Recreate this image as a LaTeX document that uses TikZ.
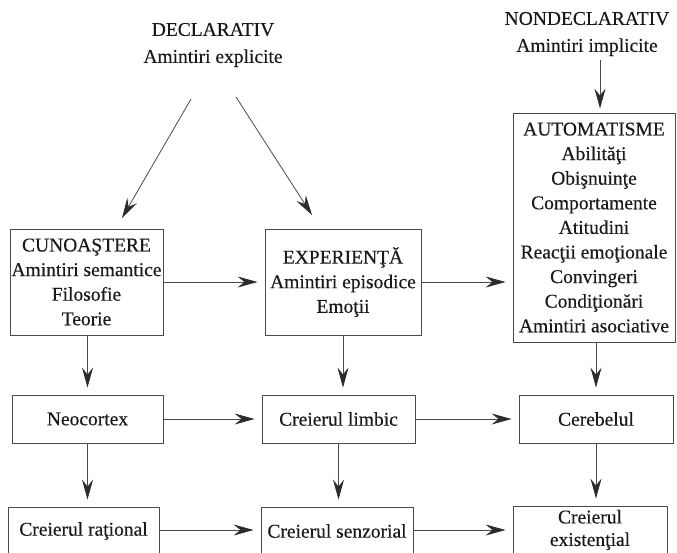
\documentclass[tikz,border=0pt]{standalone}
\usepackage{fontspec}
\setmainfont{Liberation Serif}[FakeBold=0.35]
\usetikzlibrary{arrows.meta}
\definecolor{ink}{HTML}{1A1A1A}
\definecolor{edge}{HTML}{4A4A4A}
\definecolor{tip}{HTML}{2C2C2C}
\begin{document}
\begin{tikzpicture}[x=1pt,y=-1pt,
  every node/.style={text=ink, font=\fontsize{19.5}{24.6}\selectfont},
  box/.style={draw=edge, line width=0.9pt, rectangle, align=center, inner sep=0pt},
  label/.style={align=center, inner sep=0pt},
  arr/.style={draw=edge, line width=0.8pt,
    -{Stealth[length=20pt,width=11pt,inset=7pt,fill=tip,color=tip]},
    shorten >=7pt}
]
\useasboundingbox (0,0) rectangle (677,552);
\clip (0,0) rectangle (677,552);

% headings
\node[label, font=\fontsize{19.5}{27}\selectfont] (decl) at (213,45) {DECLARATIV\\Amintiri explicite};
\node[label, font=\fontsize{19.5}{27}\selectfont] (nondecl) at (587,34) {NONDECLARATIV\\Amintiri implicite};

% first row
\node[box, minimum width=153pt, minimum height=106pt] (cun) at (86.5,282)
  {CUNOAŞTERE\\Amintiri semantice\\Filosofie\\Teorie};
\node[box, minimum width=156pt, minimum height=106pt] (exp) at (343,282)
  {EXPERIENŢĂ\\Amintiri episodice\\Emoţii};
\node[box, minimum width=162pt, minimum height=229pt] (auto) at (594,227.5)
  {AUTOMATISME\\Abilităţi\\Obişnuinţe\\Comportamente\\Atitudini\\Reacţii emoţionale\\Convingeri\\Condiţionări\\Amintiri asociative};

% second row
\node[box, minimum width=151pt, minimum height=48pt] (neo) at (87.5,419) {Neocortex};
\node[box, minimum width=153pt, minimum height=48pt] (limb) at (338.5,419) {Creierul limbic};
\node[box, minimum width=154pt, minimum height=48pt] (cereb) at (596,419) {Cerebelul};

% third row (runs past the lower edge)
\node[box, minimum width=151pt, minimum height=48pt] (rat) at (83.5,531) {Creierul raţional};
\node[box, minimum width=152pt, minimum height=48pt] (senz) at (337,531) {Creierul senzorial};
\node[box, minimum width=154pt, minimum height=48pt, font=\fontsize{19.5}{22.5}\selectfont] (exist) at (590,530) {Creierul\\existenţial};

% free ends of the heading arrows
\coordinate (d1s) at (191,99);
\coordinate (d1e) at (122,218);
\coordinate (d2s) at (236,97);
\coordinate (d2e) at (312,215);
\coordinate (nds) at (600,60);

\draw[arr, shorten >=0pt] (d1s) -- (d1e);
\draw[arr, shorten >=0pt] (d2s) -- (d2e);
\draw[arr, shorten >=4pt] (nds) -- (nds |- auto.north);

% horizontal connectors
\draw[arr] (cun.east) -- (exp.west);
\draw[arr] (exp.east) -- (exp.east -| auto.west);
\draw[arr] (neo.east) -- (limb.west);
\draw[arr] (limb.east) -- (cereb.west);
\draw[arr] (rat.east |- 0,530) -- (senz.west |- 0,530);
\draw[arr] (senz.east |- 0,530) -- (exist.west |- 0,530);

% vertical connectors
\draw[arr] (cun.south -| neo) -- (neo.north);
\draw[arr] (exp.south) -- (exp.south |- limb.north);
\draw[arr] (auto.south -| cereb) -- (cereb.north);
\draw[arr] (neo.south) -- (neo.south |- rat.north);
\draw[arr] (limb.south) -- (limb.south |- senz.north);
\draw[arr] (cereb.south) -- (cereb.south |- exist.north);
\end{tikzpicture}
\end{document}
